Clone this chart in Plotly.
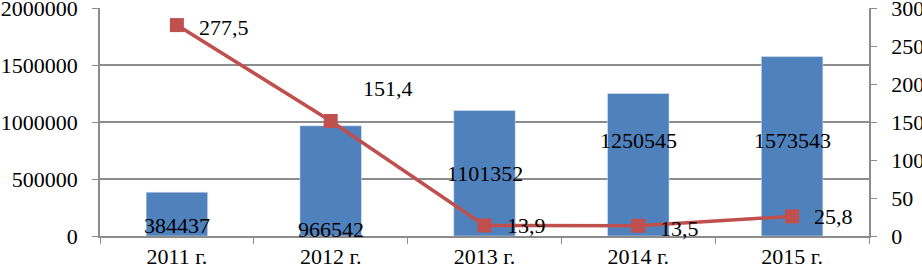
import plotly.graph_objects as go

categories = ["2011 г.", "2012 г.", "2013 г.", "2014 г.", "2015 г."]
bar_values = [384437, 966542, 1101352, 1250545, 1573543]
line_values = [277.5, 151.4, 13.9, 13.5, 25.8]
# vertical positions (left-axis units) where the bar value labels sit
bar_label_pos = [96000, 60000, 552000, 842000, 842000]
# offsets of the line value labels (px)
line_label_dx = [20, 30, 20, 20, 20]
line_label_dy = [-2, 32, 0, -3, 0]

BLUE = "#4F81BD"
RED = "#C0504D"
GRID = "#8c8c8c"
FONT = dict(family="Liberation Serif, Times New Roman, serif", size=22, color="black")

fig = go.Figure()
fig.add_trace(go.Bar(x=categories, y=bar_values, marker_color=BLUE, width=0.4,
                     showlegend=False, hoverinfo="skip"))
fig.add_trace(go.Scatter(x=categories, y=line_values, yaxis="y2", mode="lines+markers",
                         line=dict(color=RED, width=3.5),
                         marker=dict(symbol="square", size=14, color=RED),
                         showlegend=False, hoverinfo="skip"))

annotations = []
for c, v, p in zip(categories, bar_values, bar_label_pos):
    annotations.append(dict(x=c, y=p, yref="y", text=str(v), showarrow=False,
                            font=FONT, xanchor="center", yanchor="middle"))
for c, v, dx, dy in zip(categories, line_values, line_label_dx, line_label_dy):
    annotations.append(dict(x=c, y=v, yref="y2", text=f"{v}".replace(".", ","),
                            showarrow=False, font=FONT, xanchor="left", yanchor="middle",
                            xshift=dx, yshift=dy))

fig.update_layout(
    width=922, height=272,
    margin=dict(l=100, r=53, t=8, b=36, autoexpand=False),
    paper_bgcolor="white", plot_bgcolor="white",
    font=FONT,
    bargap=0.6,
    annotations=annotations,
    xaxis=dict(type="category", showline=True, linecolor=GRID, linewidth=1.5,
               ticks="outside", tickson="boundaries", ticklen=6, tickcolor=GRID,
               showgrid=False, tickfont=FONT, automargin=False),
    yaxis=dict(range=[0, 2000000], dtick=500000, showgrid=True, gridcolor=GRID,
               gridwidth=1.5, showline=True, linecolor=GRID, linewidth=1.5,
               ticks="outside", ticklen=6, tickcolor=GRID, tickfont=FONT,
               tickformat="d", zeroline=False, ticklabelstandoff=10, automargin=False,
               ticklabeloverflow="allow"),
    yaxis2=dict(range=[0, 300], dtick=50, overlaying="y", side="right",
                showgrid=False, showline=True, linecolor=GRID, linewidth=1.5,
                ticks="outside", ticklen=6, tickcolor=GRID, tickfont=FONT,
                zeroline=False, ticklabelstandoff=10, automargin=False,
                ticklabeloverflow="allow"),
)

fig.write_html("out.html", config={"displayModeBar": False},
               post_script="document.body.style.margin='0';document.body.style.overflow='hidden';")
